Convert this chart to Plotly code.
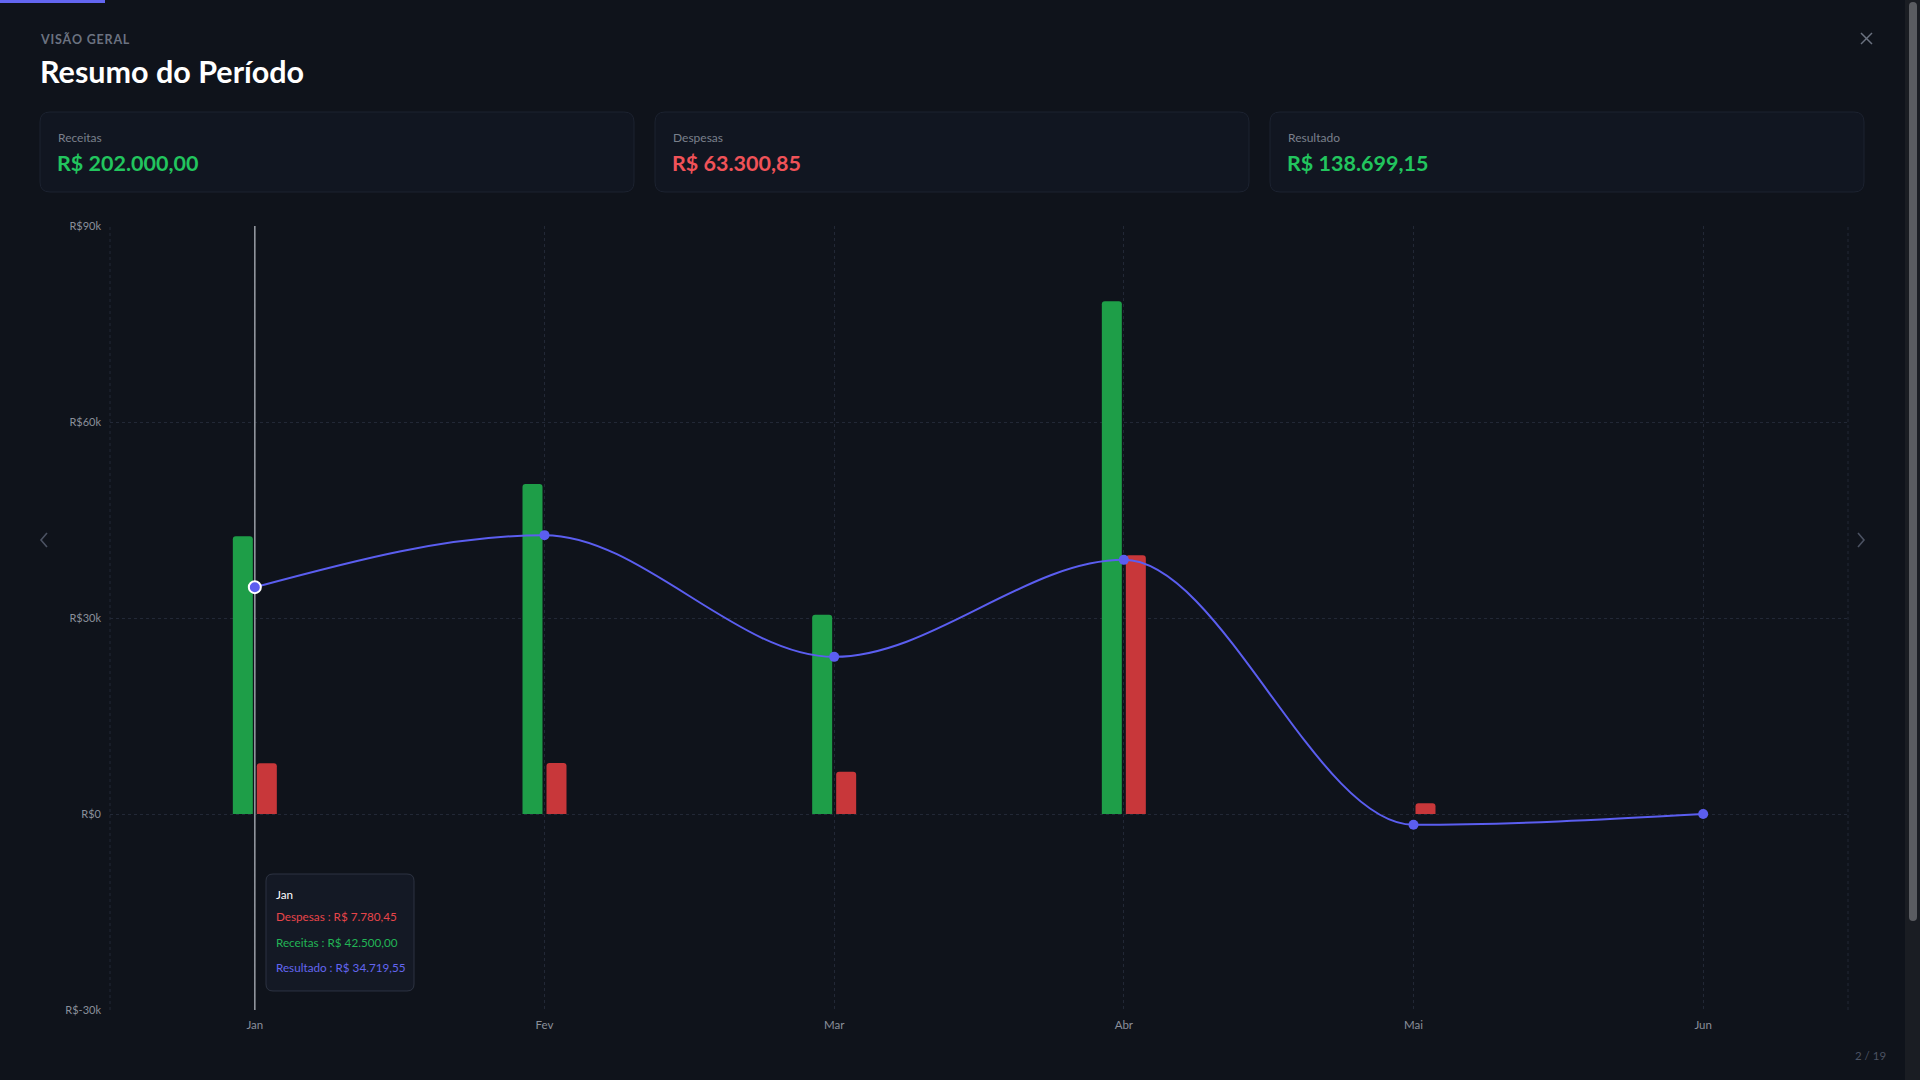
import plotly.graph_objects as go

# ---------------- data ----------------
meses = ["Jan", "Fev", "Mar", "Abr", "Mai", "Jun"]
receitas = [42500.00, 50500.00, 30500.00, 78500.00, 0.00, 0.00]
despesas = [7780.45, 7820.40, 6450.00, 39600.00, 1650.00, 0.00]
resultado = [34719.55, 42679.60, 24050.00, 38900.00, -1650.00, 0.00]
y_tickvals = [-30000, 0, 30000, 60000, 90000]
y_ticktext = ["R$-30k", "R$0", "R$30k", "R$60k", "R$90k"]
card_labels = ["Receitas", "Despesas", "Resultado"]
active_idx = 0
page_label = "2 / 19"

# ---------------- style ----------------
BG = "#0f131b"
CARD_BG = "#111621"
CARD_BORDER = "#1c2230"
GRID = "#222836"
GREEN_BAR = "#1e9e48"
RED_BAR = "#c8373a"
LINE = "#5b5ef0"
GREEN_TXT = "#22c55e"
RED_TXT = "#f05258"
AXIS_TXT = "#8a8f9a"
FONT = "Lato, 'Noto Sans', sans-serif"

W, H = 1920, 1080
L, R, T, B = 110, 1848, 226, 1010


def px(x):
    return (x - L) / (R - L)


def py(y):
    return (B - y) / (B - T)


def rrect(x0, y0, x1, y1, r):
    pts = [
        ("M", [(x0 + r, y0)]),
        ("L", [(x1 - r, y0)]),
        ("Q", [(x1, y0), (x1, y0 + r)]),
        ("L", [(x1, y1 - r)]),
        ("Q", [(x1, y1), (x1 - r, y1)]),
        ("L", [(x0 + r, y1)]),
        ("Q", [(x0, y1), (x0, y1 - r)]),
        ("L", [(x0, y0 + r)]),
        ("Q", [(x0, y0), (x0 + r, y0)]),
    ]
    s = ""
    for cmd, ps in pts:
        s += cmd + " " + " ".join(f"{px(a):.6f},{py(b):.6f}" for a, b in ps) + " "
    return s + "Z"


def brl(v):
    s = f"{abs(v):,.2f}".replace(",", "X").replace(".", ",").replace("X", ".")
    return ("-" if v < 0 else "") + "R$ " + s


def monotone_path(ys):
    """Monotone-X cubic curve through (index, value) in axis data units."""
    n = len(ys)
    sec = [ys[i + 1] - ys[i] for i in range(n - 1)]
    t = [0.0] * n
    for i in range(1, n - 1):
        s0, s1 = sec[i - 1], sec[i]
        if s0 * s1 <= 0:
            t[i] = 0.0
        else:
            p = (s0 + s1) / 2
            sign = 1 if s0 > 0 else -1
            t[i] = sign * min(abs(s0), abs(s1), 0.5 * abs(p)) * 2
    t[0] = (3 * sec[0] - t[1]) / 2
    t[-1] = (3 * sec[-1] - t[-2]) / 2
    d = f"M {0},{ys[0]}"
    for i in range(n - 1):
        d += (f" C {i + 1/3:.5f},{ys[i] + t[i]/3:.3f} {i + 2/3:.5f},{ys[i+1] - t[i+1]/3:.3f}"
              f" {i + 1},{ys[i+1]}")
    return d


fig = go.Figure()

fig.add_trace(go.Bar(
    x=meses, y=receitas, name="Receitas",
    marker=dict(color=GREEN_BAR, line=dict(width=0)),
))
fig.add_trace(go.Bar(
    x=meses, y=despesas, name="Despesas",
    marker=dict(color=RED_BAR, line=dict(width=0)),
))
fig.add_trace(go.Scatter(
    x=meses, y=resultado, name="Resultado", mode="markers",
    marker=dict(color=LINE, size=10, line=dict(width=0)),
))

shapes = []
annotations = []

# grid edges (vertical)
for xe in (0, 1):
    shapes.append(dict(type="line", xref="paper", yref="paper", x0=xe, x1=xe, y0=0, y1=1,
                       line=dict(color=GRID, width=1, dash="3px,3px"), layer="below"))

# cursor line
shapes.append(dict(type="line", xref="x", yref="paper", x0=meses[active_idx], x1=meses[active_idx],
                   y0=0, y1=1, line=dict(color="#9a9ea6", width=1.5), layer="above"))

# result line (monotone curve in data coordinates)
shapes.append(dict(type="path", xref="x", yref="y", path=monotone_path(resultado),
                   line=dict(color=LINE, width=2), layer="above"))

# active dot
shapes.append(dict(type="circle", xref="x", yref="y", xsizemode="pixel", ysizemode="pixel",
                   xanchor=active_idx, yanchor=resultado[active_idx], x0=-6, x1=6, y0=-6, y1=6,
                   fillcolor=LINE, line=dict(color="#ffffff", width=2), layer="above"))

# top accent bar
shapes.append(dict(type="rect", xref="paper", yref="paper", x0=px(0), x1=px(105), y0=py(0), y1=py(3),
                   fillcolor="#6366f1", line=dict(width=0)))

# header
kicker = "\u200a".join("VISÃO GERAL")
annotations.append(dict(text="<b>" + kicker + "</b>", x=px(38), y=py(39), xref="paper", yref="paper",
                        xanchor="left", yanchor="middle", showarrow=False,
                        font=dict(size=12.5, color="#6b7280", family=FONT)))
annotations.append(dict(text="<b>Resumo do Período</b>", x=px(38), y=py(71), xref="paper", yref="paper",
                        xanchor="left", yanchor="middle", showarrow=False,
                        font=dict(size=30.5, color="#ffffff", family=FONT)))

# close X
shapes.append(dict(type="line", xref="paper", yref="paper", x0=px(1861), x1=px(1872), y0=py(33), y1=py(44),
                   line=dict(color="#6b7280", width=1.5)))
shapes.append(dict(type="line", xref="paper", yref="paper", x0=px(1861), x1=px(1872), y0=py(44), y1=py(33),
                   line=dict(color="#6b7280", width=1.5)))

# nav arrows
def chevron(xs, ys):
    return "M " + " L ".join(f"{px(a):.6f},{py(b):.6f}" for a, b in zip(xs, ys))

shapes.append(dict(type="path", xref="paper", yref="paper", path=chevron([47, 41, 47], [533, 540, 547]),
                   line=dict(color="#4b5262", width=1.6)))
shapes.append(dict(type="path", xref="paper", yref="paper", path=chevron([1858, 1864, 1858], [533, 540, 547]),
                   line=dict(color="#4b5262", width=1.6)))

# summary cards
totals = [sum(receitas), sum(despesas), sum(receitas) - sum(despesas)]
card_colors = [GREEN_TXT, RED_TXT, GREEN_TXT]
card_x = [40, 655, 1270]
card_w = 594
for i in range(3):
    x0 = card_x[i]
    shapes.append(dict(type="path", xref="paper", yref="paper", path=rrect(x0, 112, x0 + card_w, 192, 10),
                       fillcolor=CARD_BG, line=dict(color=CARD_BORDER, width=1)))
    annotations.append(dict(text=card_labels[i], x=px(x0 + 16), y=py(137), xref="paper", yref="paper",
                            xanchor="left", yanchor="middle", showarrow=False,
                            font=dict(size=12, color="#7a808c", family=FONT)))
    annotations.append(dict(text="<b>" + brl(totals[i]) + "</b>", x=px(x0 + 15), y=py(163), xref="paper",
                            yref="paper", xanchor="left", yanchor="middle", showarrow=False,
                            font=dict(size=21.5, color=card_colors[i], family=FONT)))

# tooltip
shapes.append(dict(type="path", xref="paper", yref="paper", path=rrect(266, 874, 414, 991, 7),
                   fillcolor="#141925", line=dict(color="#2d3342", width=1), layer="above"))
tip_rows = [
    (meses[active_idx], "#ffffff", 894),
    (f"Despesas : {brl(despesas[active_idx])}", "#e8454a", 916),
    (f"Receitas : {brl(receitas[active_idx])}", "#22b455", 942),
    (f"Resultado : {brl(resultado[active_idx])}", "#6366f1", 967),
]
for txt, col, yy in tip_rows:
    annotations.append(dict(text=txt, x=px(274), y=py(yy), xref="paper", yref="paper",
                            xanchor="left", yanchor="middle", showarrow=False,
                            font=dict(size=11.7, color=col, family=FONT)))

# page counter
annotations.append(dict(text=page_label, x=px(1871), y=py(1055), xref="paper", yref="paper",
                        xanchor="center", yanchor="middle", showarrow=False,
                        font=dict(size=11.5, color="#4b5262", family=FONT)))

# scrollbar
shapes.append(dict(type="rect", xref="paper", yref="paper", x0=px(1905), x1=px(1920), y0=py(0), y1=py(1080),
                   fillcolor="#1a1d23", line=dict(width=0)))
shapes.append(dict(type="path", xref="paper", yref="paper", path=rrect(1909, 2, 1917, 921, 4),
                   fillcolor="#5a5c61", line=dict(width=0)))

fig.update_layout(
    width=W, height=H, autosize=False,
    margin=dict(l=L, r=W - R, t=T, b=H - B, pad=0),
    paper_bgcolor=BG, plot_bgcolor=BG,
    font=dict(family=FONT, color=AXIS_TXT, size=11),
    showlegend=False, hovermode=False,
    barmode="group", bargap=0.8343, bargroupgap=0.1667, barcornerradius=3,
    xaxis=dict(type="category", range=[-0.5, 5.5], showgrid=True, gridcolor=GRID, griddash="3px,3px",
               gridwidth=1, zeroline=False, showline=False, ticks="", ticklabelstandoff=6,
               tickfont=dict(size=11.5, color=AXIS_TXT, family=FONT), fixedrange=True),
    yaxis=dict(range=[-30000, 90000], tickvals=y_tickvals, ticktext=y_ticktext, showgrid=True,
               gridcolor=GRID, griddash="3px,3px", gridwidth=1, zeroline=False, showline=False,
               ticks="", ticklabelstandoff=8, tickfont=dict(size=11, color=AXIS_TXT, family=FONT),
               fixedrange=True),
    shapes=shapes, annotations=annotations,
)

fig.write_html("out.html", config={"displayModeBar": False})
